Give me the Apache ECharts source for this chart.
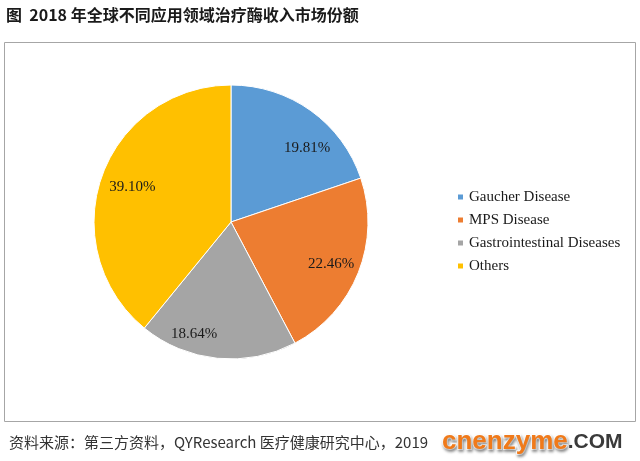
<!DOCTYPE html>
<html>
<head>
<meta charset="utf-8">
<script src="https://cdn.jsdelivr.net/npm/echarts@6/dist/echarts.min.js"></script>
<style>html,body{margin:0;padding:0;background:#fff;}#c{width:640px;height:461px;}</style>
</head>
<body>
<div id="c"></div>
<script>
const categories = ['Gaucher Disease', 'MPS Disease', 'Gastrointestinal Diseases', 'Others'];
const shares = [19.81, 22.46, 18.64, 39.10];
const colors = ['#5B9BD5', '#ED7D31', '#A5A5A5', '#FFC000'];
const titleText = '图  2018 年全球不同应用领域治疗酶收入市场份额';
const sourceText = '资料来源：第三方资料，QYResearch 医疗健康研究中心，2019';

// label placement nudges (style only, like Excel "best fit")
const labelOffsets = [[12, 15], [-2, 1], [-26, 3], [5, 2]];

const chart = echarts.init(document.getElementById('c'), null, {renderer: 'canvas'});
const pieData = categories.map((n, i) => ({name: n, value: shares[i], itemStyle: {color: colors[i]}}));
const labelData = categories.map((n, i) => ({name: n, value: shares[i], label: {offset: labelOffsets[i]}}));

chart.setOption({
  animation: false,
  backgroundColor: '#fff',
  color: colors,
  graphic: [{
    type: 'rect', silent: true, z: -1,
    shape: {x: 4.5, y: 42.5, width: 631, height: 379},
    style: {fill: '#fff', stroke: '#a6a6a6', lineWidth: 1}
  }],
  title: [
    {text: titleText, left: 1, top: 2,
     textStyle: {fontFamily: 'Noto Sans CJK SC', fontWeight: 'bold', fontSize: 16, color: '#1a1a1a'}},
    {text: sourceText, left: 4, top: 430,
     textStyle: {fontFamily: 'Noto Sans CJK SC', fontWeight: 'normal', fontSize: 15, color: '#333'}},
    {text: '{a|cnenzyme}{b|.COM}', left: 437, top: 424,
     textStyle: {rich: {
       a: {fontFamily: 'Liberation Sans', fontWeight: 'bold', fontSize: 26, color: '#F07A1A',
           textBorderColor: '#fff', textBorderWidth: 2,
           textShadowColor: 'rgba(0,0,0,0.35)', textShadowBlur: 3, textShadowOffsetX: 1, textShadowOffsetY: 2},
       b: {fontFamily: 'Liberation Sans', fontWeight: 'bold', fontSize: 21, color: '#3a3a3a'}
     }}}
  ],
  legend: {
    orient: 'vertical', left: 456, top: 189, padding: 0,
    data: categories,
    itemWidth: 7, itemHeight: 7, itemGap: 7,
    icon: 'rect',
    textStyle: {fontFamily: 'Liberation Serif, serif', fontSize: 15, color: '#1a1a1a', lineHeight: 16}
  },
  series: [
    {
      type: 'pie', name: 'share', center: [231, 222], radius: 137,
      startAngle: 90, clockwise: true, silent: true,
      data: pieData,
      itemStyle: {borderColor: '#fff', borderWidth: 1},
      label: {show: false}, labelLine: {show: false}
    },
    {
      type: 'pie', name: 'labels', center: [231, 222], radius: [77, 137],
      startAngle: 90, clockwise: true, silent: true,
      data: labelData,
      itemStyle: {color: 'rgba(0,0,0,0)', borderWidth: 0},
      label: {show: true, position: 'inside', formatter: p => p.value.toFixed(2) + '%',
              fontFamily: 'Liberation Serif', fontSize: 15, color: '#1a1a1a'},
      labelLine: {show: false}
    }
  ]
});
</script>
</body>
</html>
